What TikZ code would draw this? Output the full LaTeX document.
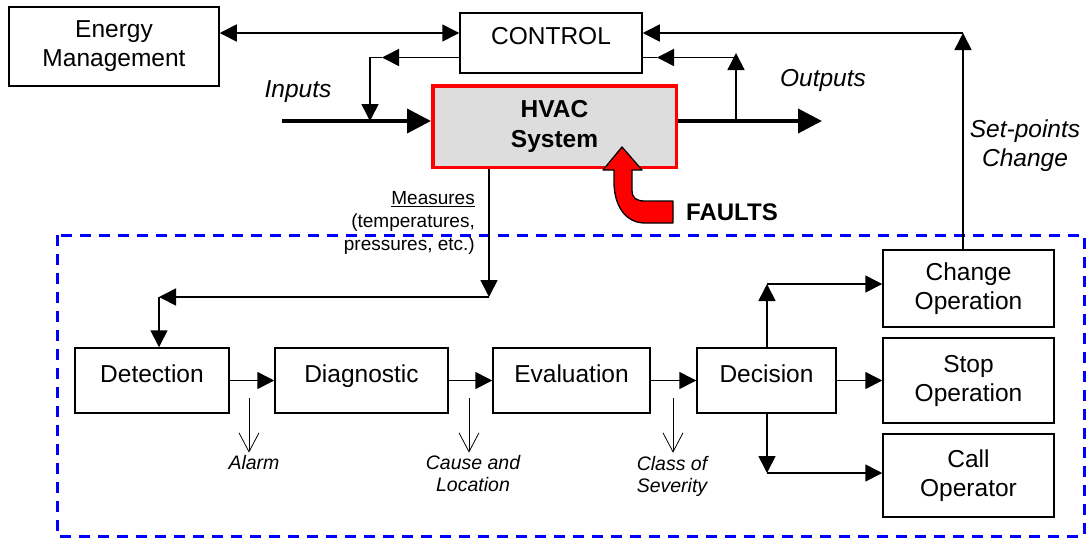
\documentclass[tikz,border=0pt]{standalone}
\usepackage{fontspec}
\setmainfont{Liberation Sans}
\usetikzlibrary{arrows.meta,calc}
\definecolor{hvacgray}{RGB}{221,221,221}
\definecolor{fblue}{RGB}{0,0,255}
\definecolor{fred}{RGB}{255,0,0}
\begin{document}
\begin{tikzpicture}[x=1pt,y=-1pt,
  box/.style={draw=black, line width=1.5pt, inner sep=0pt, fill=white,
    font=\fontsize{24.5}{29}\selectfont, align=center},
  onebox/.style={box, text height=17.5pt, text depth=14pt},
  arr/.style={line width=1.6pt, -{Triangle[length=17pt,width=17pt]}},
  dblarr/.style={line width=1.6pt, {Triangle[length=17pt,width=17pt]}-{Triangle[length=17pt,width=17pt]}},
  bigarr/.style={line width=3.8pt, -{Triangle[length=24pt,width=24pt]}},
  plain/.style={line width=1.6pt},
  openarr/.style={line width=0.8pt, -{Straight Barb[length=19pt,width=20pt,line width=0.8pt]}},
  lbl/.style={inner sep=0pt, font=\fontsize{24.5}{29}\selectfont\itshape, align=center},
  small/.style={inner sep=0pt, font=\fontsize{19.5}{22}\selectfont\itshape, align=center}
]
\useasboundingbox (0,0) rectangle (1086,539);

% labels drawn first so the dashed frame lies over them
\node[inner sep=0pt, anchor=north east, align=right, font=\fontsize{19}{23}\selectfont] (meas) at (475,191.5)
  {\underline{Measures}\\(temperatures,\\pressures, etc.)};

% dashed region
\draw[fblue, line width=3pt, dash pattern=on 11pt off 8pt] (57,235) rectangle (1084,536);

% top boxes
\node[box, minimum width=210pt, minimum height=79pt] (en) at (114,46.5) {Energy\\Management};
\node[onebox, minimum width=182pt, minimum height=60pt] (ctrl) at (551,43) {CONTROL};
\node[draw=fred, line width=3.5pt, fill=hvacgray, inner sep=0pt, align=center,
  font=\fontsize{24.5}{30}\selectfont\bfseries,
  minimum width=243.5pt, minimum height=81.5pt] (hvac) at (554.5,126.5) {HVAC\\System};

% bottom row
\node[onebox, minimum width=154pt, minimum height=65pt] (det) at (152,380.5) {Detection};
\node[onebox, minimum width=173pt, minimum height=65pt] (dia) at (361.5,380.5) {Diagnostic};
\node[onebox, minimum width=157pt, minimum height=65pt] (eva) at (571.5,380.5) {Evaluation};
\node[onebox, minimum width=139pt, minimum height=65pt] (dec) at (766.5,380.5) {Decision};
\node[box, minimum width=171pt, minimum height=77pt] (chg) at (968.5,288.5) {Change\\Operation};
\node[box, minimum width=171pt, minimum height=85pt] (stp) at (968.5,380.5) {Stop\\Operation};
\node[box, minimum width=171pt, minimum height=83pt] (cal) at (968.5,475.5) {Call\\Operator};

% labels
\node[lbl] (inl) at (298,92) {Inputs};
\node[lbl] (outl) at (823,80) {Outputs};
\node[lbl] (spl) at (1025,146) {Set-points\\Change};
\node[inner sep=0pt, font=\fontsize{24}{28}\selectfont\bfseries] (flt) at (732,212) {FAULTS};
\node[small] (alarm) at (254,463) {Alarm};
\node[small] (cause) at (473,474) {Cause and\\Location};
\node[small] (cls) at (672,476) {Class of\\Severity};

% coordinates
\coordinate (y33) at (0,33);
\coordinate (y57) at (0,57.5);
\coordinate (in0) at (282,121);
\coordinate (out0) at (822,121);
\coordinate (ob) at (736,121);
\coordinate (obt) at (736,53);
\coordinate (ocl) at (736,57.5);
\coordinate (otip) at (657,57.5);
\coordinate (ltip) at (382,57.5);
\coordinate (lc) at (370,57.5);
\coordinate (ld) at (370,121);
\coordinate (sp) at (963,33);
\coordinate (m1) at (489,297);
\coordinate (m2) at (159,297);
\coordinate (cj) at (767,284);
\coordinate (cb) at (767,473);
\coordinate (a1) at (249,398);
\coordinate (a2) at (469,398);
\coordinate (a3) at (673,398);

% top connectors
\draw[dblarr] (en.east |- y33) -- (ctrl.west |- y33);
\draw[arr] (ctrl.west |- y57) -- (ltip);
\draw[arr] (ltip) -- (lc) -- (ld);
\draw[bigarr] (in0) -- (hvac.west |- in0);
\draw[bigarr] (hvac.east |- in0) -- (out0);
\draw[arr] (ob) -- (obt);
\draw[arr] (ocl) -- (otip);
\draw[plain] (otip) -- (ctrl.east |- otip);
\draw[arr] (chg.north -| sp) -- (sp);
\draw[arr] (sp) -- (ctrl.east |- sp);

% measures
\draw[arr] (hvac.south -| m1) -- (m1);
\draw[arr] (m1) -- (m2);
\draw[arr] (m2) -- (m2 |- det.north);

% row
\draw[arr] (det) -- (dia);
\draw[arr] (dia) -- (eva);
\draw[arr] (eva) -- (dec);
\draw[arr] (dec.east) -- (stp.west);
\draw[arr] (dec.north -| cj) -- (cj);
\draw[arr] (cj) -- (cj -| chg.west);
\draw[arr] (dec.south -| cb) -- (cb);
\draw[arr] (cb) -- (cb -| cal.west);

% open arrows
\draw[openarr] (a1) -- ($(a1 |- alarm.north)+(0,-3)$);
\draw[openarr] (a2) -- ($(a2 |- cause.north)+(0,-3)$);
\draw[openarr] (a3) -- ($(a3 |- cls.north)+(0,-3)$);

% faults arrow
\draw[fill=fred, line width=1.3pt, line join=round]
  (622,147) -- (642,170) -- (632,170) -- (632,190)
  .. controls (632,198) and (636,201) .. (645,201) -- (673,201) -- (673,223) -- (645,223)
  .. controls (625,223) and (614,205) .. (614,182) -- (614,170) -- (603,170) -- cycle;
\end{tikzpicture}
\end{document}
